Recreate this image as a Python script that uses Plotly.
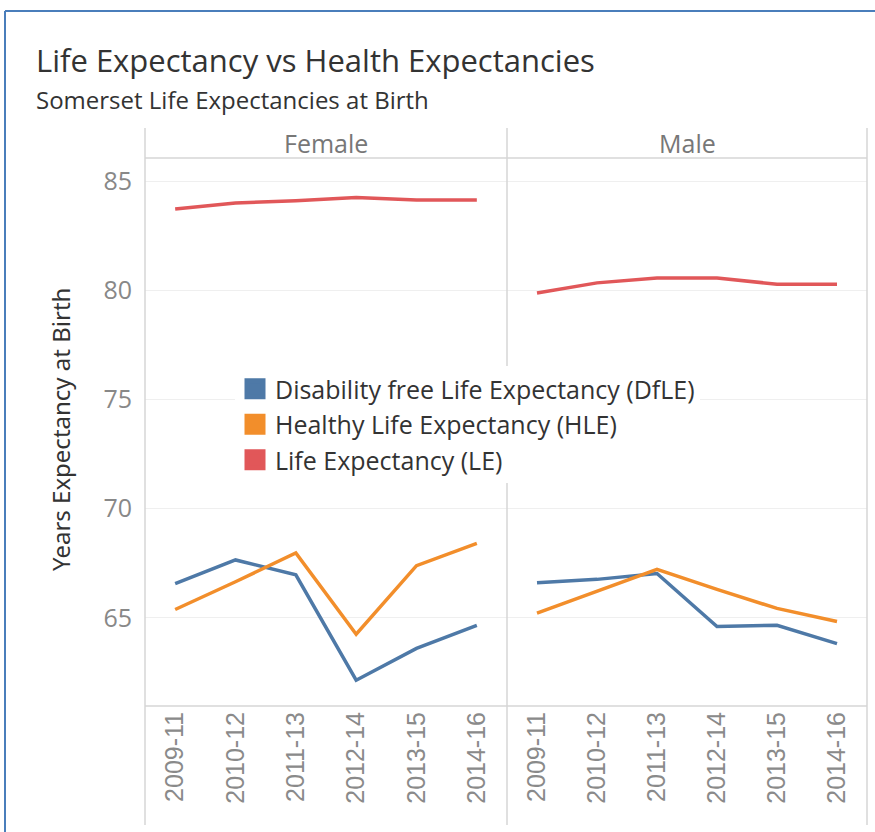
import plotly.graph_objects as go

periods = ["2009-11", "2010-12", "2011-13", "2012-14", "2013-15", "2014-16"]
panels = ["Female", "Male"]
series_names = ["Disability free Life Expectancy (DfLE)",
                "Healthy Life Expectancy (HLE)",
                "Life Expectancy (LE)"]
colors = ["#4E79A7", "#F28E2B", "#E15759"]

female_dfle = [66.57, 67.65, 66.97, 62.14, 63.60, 64.65]
female_hle = [65.38, 66.65, 67.97, 64.25, 67.39, 68.41]
female_le = [83.72, 84.00, 84.10, 84.25, 84.14, 84.14]

male_dfle = [66.60, 66.76, 67.03, 64.60, 64.66, 63.82]
male_hle = [65.21, 66.20, 67.22, 66.30, 65.43, 64.83]
male_le = [79.88, 80.34, 80.56, 80.56, 80.28, 80.28]

y_ticks = [65, 70, 75, 80, 85]

data = {
    "Female": [female_dfle, female_hle, female_le],
    "Male": [male_dfle, male_hle, male_le],
}

W, H = 875, 832
L, R, T, B = 145, 867, 158, 706
pw, ph = R - L, B - T
def px_x(p):
    return (p - L) / pw
def px_y(p):
    return 1 - (p - T) / ph

split = px_x(507)

fig = go.Figure()
for pi, panel in enumerate(panels):
    xa = "x" if pi == 0 else "x2"
    for si, vals in enumerate(data[panel]):
        fig.add_trace(go.Scatter(
            x=periods, y=vals, xaxis=xa, yaxis="y", mode="lines",
            line=dict(color=colors[si], width=3.5),
            name=series_names[si], showlegend=False, hoverinfo="x+y+name"))

# legend-only entries with square swatches
for si, name in enumerate(series_names):
    fig.add_trace(go.Scatter(
        x=[None], y=[None], mode="markers", name=name,
        marker=dict(symbol="square", size=16, color=colors[si],
                    line=dict(color=colors[si], width=5)),
        showlegend=True))

axis_common = dict(
    type="category", range=[-0.5, 5.5], showgrid=False, zeroline=False,
    showline=False, tickangle=-90, ticks="",
    tickfont=dict(family="Liberation Sans, Arial", size=25, color="#8a8a8a"),
    ticklabelstandoff=0, fixedrange=True,
)
fig.update_layout(
    width=W, height=H,
    margin=dict(l=L, r=W - R, t=T, b=H - B, pad=0),
    paper_bgcolor="white", plot_bgcolor="white",
    xaxis=dict(domain=[0, split], anchor="y", **axis_common),
    xaxis2=dict(domain=[split, 1], anchor="y", **axis_common),
    yaxis=dict(range=[60.96, 86.06], tickvals=y_ticks, showgrid=True,
               gridcolor="#efefef", gridwidth=1, zeroline=False, showline=False,
               ticks="", ticklabelstandoff=12,
               tickfont=dict(family="Open Sans", size=25, color="#888888"),
               fixedrange=True),
    legend=dict(x=px_x(235), y=px_y(366), xanchor="left", yanchor="top",
                bgcolor="white", borderwidth=0,
                font=dict(family="Open Sans", size=25, color="#333333"),
                traceorder="normal", itemclick=False),
    showlegend=True,
)

line_col = "#d6d6d6"
shapes = []
top_hdr = px_y(128)
bottom_ext = px_y(825)
for xp in [145, 507, 867]:
    shapes.append(dict(type="line", xref="paper", yref="paper",
                       x0=px_x(xp), x1=px_x(xp), y0=bottom_ext, y1=top_hdr,
                       line=dict(color=line_col, width=1.5)))
for yp in [T, B]:
    shapes.append(dict(type="line", xref="paper", yref="paper",
                       x0=0, x1=1, y0=px_y(yp), y1=px_y(yp),
                       line=dict(color=line_col, width=1.5)))
# outer blue frame
shapes.append(dict(type="line", xref="paper", yref="paper",
                   x0=px_x(5), x1=px_x(880), y0=px_y(11), y1=px_y(11),
                   line=dict(color="#4a7ebb", width=2)))
shapes.append(dict(type="line", xref="paper", yref="paper",
                   x0=px_x(5), x1=px_x(5), y0=px_y(11), y1=px_y(840),
                   line=dict(color="#4a7ebb", width=2)))
fig.update_layout(shapes=shapes)

annotations = [
    dict(text="Life Expectancy vs Health Expectancies", xref="paper", yref="paper",
         x=px_x(34), y=px_y(60), xanchor="left", yanchor="middle", showarrow=False,
         font=dict(family="Open Sans", size=31, color="#333333")),
    dict(text="Somerset Life Expectancies at Birth", xref="paper", yref="paper",
         x=px_x(34), y=px_y(99), xanchor="left", yanchor="middle", showarrow=False,
         font=dict(family="Open Sans", size=24, color="#333333")),
    dict(text="Years Expectancy at Birth", xref="paper", yref="paper",
         x=px_x(60), y=px_y(430), xanchor="center", yanchor="middle", showarrow=False,
         textangle=-90, font=dict(family="Noto Sans", size=24, color="#333333")),
]
for pi, panel in enumerate(panels):
    cx = px_x(326) if pi == 0 else px_x(687)
    annotations.append(dict(text=panel, xref="paper", yref="paper", x=cx, y=px_y(143),
                            xanchor="center", yanchor="middle", showarrow=False,
                            font=dict(family="Open Sans", size=25, color="#777777")))
fig.update_layout(annotations=annotations)

fig.write_html("out.html", config={"displayModeBar": False},
               post_script="document.body.style.margin='0px';")
